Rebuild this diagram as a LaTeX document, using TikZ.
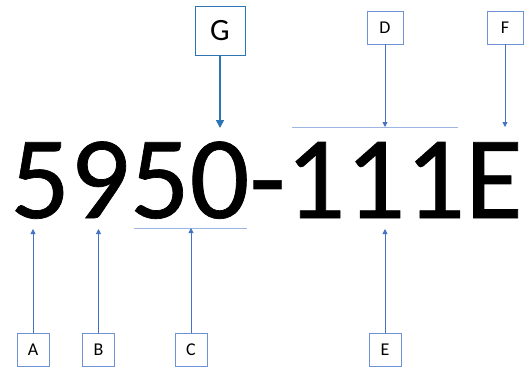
\documentclass[tikz,border=0pt]{standalone}
\usepackage{fontspec}
\setmainfont{Carlito}
\newfontfamily\bigfont[FakeBold=0.6]{Carlito}
\usetikzlibrary{arrows.meta}
\definecolor{lineblue}{HTML}{4472C4}
\definecolor{boxblue}{HTML}{6F92D6}
\definecolor{barblue}{HTML}{9DB5E3}
\definecolor{gblue}{HTML}{2E75B6}
\begin{document}
\begin{tikzpicture}[x=1pt,y=-1pt,
  lbl/.style={draw=boxblue,line width=0.9pt,fill=white,minimum width=32pt,minimum height=33pt,inner sep=0pt,font=\fontsize{18}{18}\selectfont},
  ptr/.style={draw=lineblue,line width=0.8pt,-{Triangle[width=5pt,length=5pt]}},
  bar/.style={draw=barblue,line width=1pt}]
\useasboundingbox (0,0) rectangle (524,368);
% main text
\node[anchor=base west,inner sep=0pt,font=\bigfont\fontsize{118}{118}\selectfont] (code) at (10,218) {5950-111E};
% labels
\node[lbl,draw=gblue,line width=1pt,minimum width=50pt,minimum height=49pt,font=\fontsize{31}{31}\selectfont] (G) at (220,30.5) {G};
\node[lbl,minimum width=36pt] (D) at (385,27.5) {D};
\node[lbl,minimum width=36pt] (F) at (505,27.5) {F};
\node[lbl] (A) at (33,350) {A};
\node[lbl] (B) at (98.5,350) {B};
\node[lbl] (C) at (191,350) {C};
\node[lbl] (E) at (385,350) {E};
% bars
\coordinate (dl) at (292,127);
\coordinate (dr) at (458,127);
\coordinate (dm) at (385,127);
\coordinate (cl) at (134,228);
\coordinate (cr) at (247,228);
\coordinate (cm) at (191,228);
\draw[bar] (dl) -- (dr);
\draw[bar] (cl) -- (cr);
% arrow targets
\coordinate (gt) at (220,128);
\coordinate (ft) at (505,127);
\coordinate (at) at (33,229);
\coordinate (bt) at (98.5,229);
\coordinate (et) at (385,229);
% arrows
\draw[draw=gblue,line width=1.6pt,-{Triangle[width=8pt,length=8pt]}] (G.south) -- (gt);
\draw[ptr] (D.south) -- (dm);
\draw[ptr] (F.south) -- (ft);
\draw[ptr] (A.north) -- (at);
\draw[ptr] (B.north) -- (bt);
\draw[ptr] (C.north) -- (cm);
\draw[ptr] (E.north) -- (et);
\end{tikzpicture}
\end{document}
